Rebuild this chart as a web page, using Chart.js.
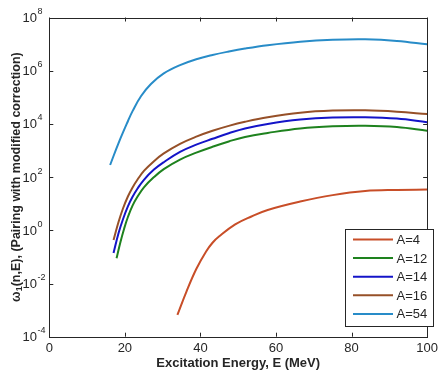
<!DOCTYPE html>
<html>
<head>
<meta charset="utf-8">
<script src="https://cdn.jsdelivr.net/npm/chart.js@4.4.1/dist/chart.umd.min.js"></script>
<style>
body { margin: 0; background: #fff; }
</style>
</head>
<body>
<canvas id="chart" width="442" height="373"></canvas>
<script>
const seriesNames = ['A=4', 'A=12', 'A=14', 'A=16', 'A=54']
const seriesColors = ['rgb(200, 78, 40)', 'rgb(30, 130, 30)', 'rgb(20, 20, 200)', 'rgb(150, 80, 40)', 'rgb(40, 140, 200)']

// excitation energy (MeV) and omega_1(n,E) for each nucleus
const energyA4 = [33.9, 36.3, 38.9, 41.5, 43.2, 44.9, 49.2, 53.5, 57.8, 66.4, 75.0, 83.6, 92.0, 100]
const omegaA4 = [6.6e-4, 5.0e-3, 3.5e-2, 0.16, 0.34, 0.58, 1.66, 3.3, 5.8, 12, 21, 30, 33, 34]

const energyA12 = [17.8, 18.8, 19.8, 20.8, 22.0, 23.4, 25.1, 27.7, 30.3, 34.6, 38.9, 43.2, 47.5, 51.8, 57.8, 66.4, 75.0, 83.6, 92.0, 100]
const omegaA12 = [0.089, 0.35, 1.15, 3.16, 8.3, 19, 42, 100, 200, 457, 832, 1380, 2190, 3240, 4570, 6760, 8130, 8510, 7590, 5500]

const energyA14 = [17.0, 18.3, 19.5, 20.8, 22.0, 23.4, 25.1, 27.7, 30.3, 34.6, 38.9, 43.2, 47.5, 51.8, 57.8, 66.4, 75.0, 83.6, 92.0, 100]
const omegaA14 = [0.14, 0.76, 2.6, 7.9, 17.8, 38, 81, 191, 363, 891, 1660, 2750, 4470, 6760, 10000, 14500, 17400, 17800, 15800, 11500]

const energyA16 = [17.0, 18.3, 19.5, 20.8, 22.0, 23.4, 25.1, 27.7, 30.3, 34.6, 38.9, 43.2, 47.5, 51.8, 57.8, 66.4, 75.0, 83.6, 92.0, 100]
const omegaA16 = [0.43, 2.0, 6.6, 18.6, 40, 83, 174, 398, 776, 1780, 3310, 5500, 8410, 12000, 17800, 26300, 31600, 32400, 28800, 23400]

const energyA54 = [16.1, 18.3, 20.8, 22.1, 24.3, 26.9, 30.3, 34.6, 38.9, 43.2, 47.5, 51.8, 57.8, 66.4, 75.0, 83.6, 92.0, 100]
const omegaA54 = [285, 1860, 1.26e4, 3.16e4, 1.12e5, 3.16e5, 7.9e5, 1.62e6, 2.7e6, 3.9e6, 5.25e6, 6.8e6, 9.1e6, 1.23e7, 1.45e7, 1.51e7, 1.32e7, 9.8e6]

const xTicks = [0, 20, 40, 60, 80, 100]
const yTickPowers = [-4, -2, 0, 2, 4, 6, 8]

const energies = [energyA4, energyA12, energyA14, energyA16, energyA54]
const omegas = [omegaA4, omegaA12, omegaA14, omegaA16, omegaA54]

const FONT = '"Liberation Sans", Arial, Helvetica, sans-serif'
const INK = '#262626'

const datasets = seriesNames.map((name, i) => ({
    label: name,
    data: energies[i].map((e, j) => ({ x: e, y: omegas[i][j] })),
    borderColor: seriesColors[i],
    backgroundColor: seriesColors[i],
    borderWidth: 2,
    pointRadius: 0,
    showLine: true,
    tension: 0.4,
}))

// box, inward ticks, power-of-ten labels, axis titles and legend
const matlabAxes = {
    id: 'matlabAxes',
    afterDraw(chart) {
        const ctx = chart.ctx
        const { left, right, top, bottom } = chart.chartArea
        const xs = chart.scales.x
        const ys = chart.scales.y
        ctx.save()

        ctx.strokeStyle = INK
        ctx.lineWidth = 1
        ctx.strokeRect(Math.round(left) + 0.5, Math.round(top) + 0.5, Math.round(right - left), Math.round(bottom - top))

        ctx.beginPath()
        xTicks.forEach(v => {
            const px = Math.round(xs.getPixelForValue(v)) + 0.5
            ctx.moveTo(px, bottom); ctx.lineTo(px, bottom - 4)
            ctx.moveTo(px, top); ctx.lineTo(px, top + 4)
        })
        yTickPowers.forEach(p => {
            const py = Math.round(ys.getPixelForValue(Math.pow(10, p))) + 0.5
            ctx.moveTo(left, py); ctx.lineTo(left + 4, py)
            ctx.moveTo(right, py); ctx.lineTo(right - 4, py)
        })
        ctx.stroke()

        ctx.fillStyle = INK
        ctx.textBaseline = 'middle'
        yTickPowers.forEach(p => {
            const py = ys.getPixelForValue(Math.pow(10, p))
            ctx.font = '13px ' + FONT
            ctx.textAlign = 'right'
            ctx.fillText('10', 37, py + 1)
            ctx.font = '9px ' + FONT
            ctx.textAlign = 'left'
            ctx.fillText(String(p), 37.5, py - 6)
        })

        ctx.font = 'bold 13px ' + FONT
        ctx.textAlign = 'center'
        ctx.fillText('Excitation Energy, E (MeV)', (left + right) / 2, 363)

        // y title with subscript
        ctx.translate(17, (top + bottom) / 2)
        ctx.rotate(-Math.PI / 2)
        const partA = 'ω'
        const partSub = '1'
        const partB = '(n,E), (Pairing with modified correction)'
        ctx.font = 'bold 12.5px ' + FONT
        const wA = ctx.measureText(partA).width
        const wB = ctx.measureText(partB).width
        ctx.font = 'bold 9px ' + FONT
        const wSub = ctx.measureText(partSub).width
        let cx = -(wA + wSub + wB) / 2
        ctx.textAlign = 'left'
        ctx.font = 'bold 12.5px ' + FONT
        ctx.fillText(partA, cx, 0)
        cx += wA
        ctx.font = 'bold 9px ' + FONT
        ctx.fillText(partSub, cx, 3)
        cx += wSub
        ctx.font = 'bold 12.5px ' + FONT
        ctx.fillText(partB, cx, 0)
        ctx.setTransform(1, 0, 0, 1, 0, 0)

        // legend box in the lower right corner
        const bx = 345.5, by = 229.5, bw = 88, bh = 97
        ctx.fillStyle = '#fff'
        ctx.fillRect(bx, by, bw, bh)
        ctx.strokeStyle = INK
        ctx.strokeRect(bx, by, bw, bh)
        chart.data.datasets.forEach((ds, i) => {
            const ly = 239.5 + i * 18.6
            ctx.strokeStyle = ds.borderColor
            ctx.lineWidth = 2
            ctx.beginPath()
            ctx.moveTo(353, ly); ctx.lineTo(393, ly)
            ctx.stroke()
            ctx.fillStyle = INK
            ctx.font = '13px ' + FONT
            ctx.textAlign = 'left'
            ctx.fillText(ds.label, 396.5, ly + 1)
        })
        ctx.restore()
    }
}

new Chart(document.getElementById('chart'), {
    type: 'scatter',
    data: { datasets: datasets },
    options: {
        responsive: false,
        animation: false,
        layout: { padding: { top: 17.5, right: 5.3, left: 0, bottom: 0 } },
        plugins: { legend: { display: false }, tooltip: { enabled: false } },
        scales: {
            x: {
                type: 'linear',
                min: 0,
                max: 100,
                afterBuildTicks: s => { s.ticks = xTicks.map(v => ({ value: v })) },
                afterFit: s => { s.height = 36.3 },
                grid: { display: false, drawTicks: false },
                border: { display: false },
                ticks: { color: INK, padding: 4, font: { family: FONT, size: 13 } },
            },
            y: {
                type: 'logarithmic',
                min: 1e-4,
                max: 1e8,
                afterBuildTicks: s => { s.ticks = yTickPowers.map(p => ({ value: Math.pow(10, p) })) },
                afterFit: s => { s.width = 49.3 },
                grid: { display: false, drawTicks: false },
                border: { display: false },
                ticks: { display: false },
            },
        },
    },
    plugins: [matlabAxes],
})
</script>
</body>
</html>
